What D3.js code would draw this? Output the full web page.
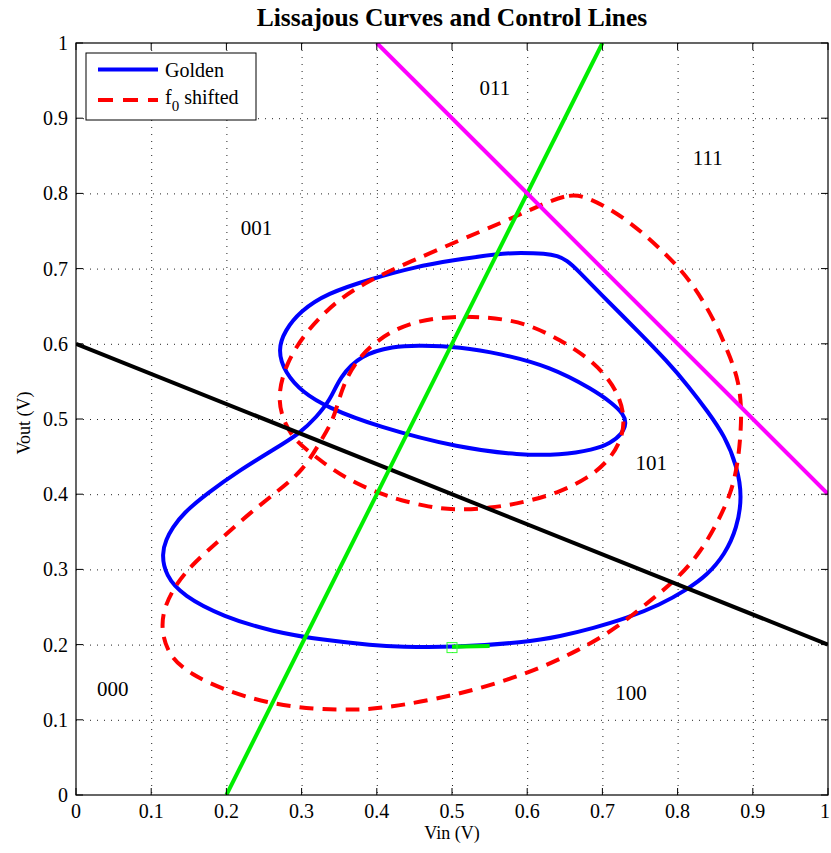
<!DOCTYPE html>
<html>
<head>
<meta charset="utf-8">
<script src="https://cdn.jsdelivr.net/npm/d3@7"></script>
<style>
  body { margin: 0; background: #fff; }
  text { font-family: "Liberation Serif", "Times New Roman", serif; }
</style>
</head>
<body>
<svg id="chart" width="831" height="853"></svg>
<script>
// golden Lissajous curve (Vin, Vout), closed loop
const golden = [
  [0.5,0.196],[0.598,0.203],[0.644,0.211],[0.688,0.222],[0.732,0.235],[0.777,0.253],
  [0.812,0.273],[0.839,0.292],[0.863,0.320],[0.879,0.355],[0.886,0.397],[0.879,0.437],
  [0.863,0.477],[0.840,0.510],[0.815,0.543],[0.785,0.578],[0.750,0.614],[0.697,0.667],
  [0.666,0.699],[0.653,0.711],[0.640,0.717],[0.625,0.720],[0.590,0.721],[0.564,0.720],
  [0.5,0.711],[0.45,0.702],[0.395,0.687],[0.333,0.667],[0.298,0.643],[0.278,0.618],
  [0.268,0.592],[0.278,0.561],[0.302,0.535],[0.333,0.516],[0.4,0.490],[0.511,0.461],
  [0.59,0.452],[0.644,0.452],[0.688,0.459],[0.711,0.468],[0.726,0.480],[0.732,0.494],
  [0.728,0.507],[0.713,0.521],[0.688,0.539],[0.63,0.570],[0.564,0.587],[0.511,0.596],
  [0.457,0.598],[0.422,0.597],[0.378,0.585],[0.351,0.556],[0.338,0.525],[0.320,0.503],
  [0.298,0.481],[0.262,0.459],[0.218,0.432],[0.174,0.401],[0.143,0.375],[0.128,0.355],
  [0.120,0.340],[0.114,0.321],[0.119,0.292],[0.142,0.265],[0.196,0.237],[0.262,0.217],
  [0.329,0.206],[0.395,0.199],[0.431,0.197]
];

// f0 shifted curve, closed loop
const shifted = [
  [0.679,0.797],[0.652,0.799],[0.608,0.780],[0.568,0.762],[0.511,0.738],[0.444,0.709],
  [0.391,0.685],[0.347,0.658],[0.307,0.618],[0.279,0.574],[0.268,0.530],[0.275,0.499],
  [0.290,0.472],[0.316,0.452],[0.342,0.432],[0.373,0.414],[0.404,0.401],[0.431,0.392],
  [0.47,0.383],[0.5,0.379],[0.55,0.381],[0.6,0.390],[0.644,0.403],[0.680,0.421],
  [0.707,0.443],[0.724,0.469],[0.730,0.497],[0.724,0.527],[0.707,0.556],[0.679,0.583],
  [0.644,0.605],[0.608,0.623],[0.573,0.633],[0.511,0.638],[0.444,0.630],[0.400,0.605],
  [0.373,0.578],[0.356,0.547],[0.347,0.516],[0.340,0.495],[0.324,0.468],[0.302,0.432],
  [0.271,0.406],[0.231,0.375],[0.191,0.339],[0.156,0.308],[0.134,0.282],[0.117,0.250],
  [0.113,0.219],[0.124,0.184],[0.152,0.161],[0.196,0.140],[0.254,0.122],[0.316,0.114],
  [0.373,0.113],[0.413,0.116],[0.5,0.131],[0.599,0.160],[0.670,0.193],[0.719,0.222],
  [0.768,0.262],[0.799,0.287],[0.830,0.322],[0.854,0.364],[0.871,0.401],[0.880,0.440],
  [0.884,0.481],[0.885,0.516],[0.881,0.550],[0.871,0.580],[0.849,0.632],[0.817,0.685],
  [0.782,0.722],[0.733,0.766]
];

// control lines: endpoints in data units
const controlLines = [
  { name: "black",   color: "#000000", pts: [[0, 0.6], [1, 0.2]] },
  { name: "green",   color: "#00ee00", pts: [[0.2, 0], [0.7, 1]] },
  { name: "magenta", color: "#ff00ff", pts: [[0.4, 1], [1, 0.4]] }
];

// current point marker and its short trace
const markerPoint = [0.5, 0.196];
const markerTrace = [[0.5, 0.197], [0.55, 0.198]];

const regionLabels = [
  { text: "011", x: 0.557, y: 0.94 },
  { text: "111", x: 0.84,  y: 0.847 },
  { text: "001", x: 0.24,  y: 0.754 },
  { text: "101", x: 0.765, y: 0.441 },
  { text: "000", x: 0.049, y: 0.141 },
  { text: "100", x: 0.738, y: 0.136 }
];

const tickValues = [0, 0.1, 0.2, 0.3, 0.4, 0.5, 0.6, 0.7, 0.8, 0.9, 1];
const tickLabels = ["0", "0.1", "0.2", "0.3", "0.4", "0.5", "0.6", "0.7", "0.8", "0.9", "1"];

const svg = d3.select("#chart");
const pLeft = 76, pRight = 828, pTop = 43, pBottom = 795;

const x = d3.scaleLinear().domain([0, 1]).range([pLeft, pRight]);
const y = d3.scaleLinear().domain([0, 1]).range([pBottom, pTop]);

const defs = svg.append("defs");
defs.append("clipPath").attr("id", "plotClip")
  .append("rect").attr("x", pLeft).attr("y", pTop)
  .attr("width", pRight - pLeft).attr("height", pBottom - pTop);

// grid
const grid = svg.append("g").attr("stroke", "#222").attr("stroke-width", 1)
  .attr("stroke-dasharray", "1,6");
grid.selectAll(".gx").data(tickValues.slice(1, -1)).enter().append("line")
  .attr("x1", d => x(d) + 0.5).attr("x2", d => x(d) + 0.5)
  .attr("y1", pTop).attr("y2", pBottom);
grid.selectAll(".gy").data(tickValues.slice(1, -1)).enter().append("line")
  .attr("y1", d => y(d) + 0.5).attr("y2", d => y(d) + 0.5)
  .attr("x1", pLeft).attr("x2", pRight);

const line = d3.line().x(d => x(d[0])).y(d => y(d[1]));
const smooth = d3.line().x(d => x(d[0])).y(d => y(d[1])).curve(d3.curveBasisClosed);

const plot = svg.append("g").attr("clip-path", "url(#plotClip)");

plot.append("path").datum(golden)
  .attr("d", smooth).attr("fill", "none")
  .attr("stroke", "#0000ff").attr("stroke-width", 4).attr("stroke-linejoin", "round");

plot.append("path").datum(shifted)
  .attr("d", smooth).attr("fill", "none")
  .attr("stroke", "#ff0000").attr("stroke-width", 4).attr("stroke-dasharray", "14,9");

plot.selectAll(".ctrl").data(controlLines).enter().append("path")
  .attr("d", d => line(d.pts)).attr("fill", "none")
  .attr("stroke", d => d.color).attr("stroke-width", 4);

plot.append("path").datum(markerTrace)
  .attr("d", line).attr("stroke", "#00ee00").attr("stroke-width", 4);
plot.append("rect")
  .attr("x", x(markerPoint[0]) - 5).attr("y", y(markerPoint[1]) - 5)
  .attr("width", 10).attr("height", 10)
  .attr("fill", "none").attr("stroke", "#33ff33").attr("stroke-width", 1);

// region codes
svg.selectAll(".region").data(regionLabels).enter().append("text")
  .attr("x", d => x(d.x)).attr("y", d => y(d.y))
  .attr("text-anchor", "middle").attr("dominant-baseline", "central")
  .attr("font-size", 21).text(d => d.text);

// frame and ticks
svg.append("rect").attr("x", pLeft).attr("y", pTop)
  .attr("width", pRight - pLeft).attr("height", pBottom - pTop)
  .attr("fill", "none").attr("stroke", "#000").attr("stroke-width", 1.2);

const tickLen = 7;
const ticks = svg.append("g").attr("stroke", "#000").attr("stroke-width", 1);
tickValues.forEach(v => {
  ticks.append("line").attr("x1", x(v)).attr("x2", x(v)).attr("y1", pBottom).attr("y2", pBottom - tickLen);
  ticks.append("line").attr("x1", x(v)).attr("x2", x(v)).attr("y1", pTop).attr("y2", pTop + tickLen);
  ticks.append("line").attr("y1", y(v)).attr("y2", y(v)).attr("x1", pLeft).attr("x2", pLeft + tickLen);
  ticks.append("line").attr("y1", y(v)).attr("y2", y(v)).attr("x1", pRight).attr("x2", pRight - tickLen);
});

svg.selectAll(".xt").data(tickValues).enter().append("text")
  .attr("x", d => Math.min(x(d), 825)).attr("y", pBottom + 23)
  .attr("text-anchor", "middle").attr("font-size", 20)
  .text((d, i) => tickLabels[i]);

svg.selectAll(".yt").data(tickValues).enter().append("text")
  .attr("x", pLeft - 8).attr("y", d => y(d))
  .attr("text-anchor", "end").attr("dominant-baseline", "central").attr("font-size", 20)
  .text((d, i) => tickLabels[i]);

// titles
svg.append("text").attr("x", (pLeft + pRight) / 2).attr("y", 26)
  .attr("text-anchor", "middle").attr("font-size", 25.5).attr("font-weight", "bold")
  .text("Lissajous Curves and Control Lines");

svg.append("text").attr("x", (pLeft + pRight) / 2).attr("y", 839)
  .attr("text-anchor", "middle").attr("font-size", 18).text("Vin (V)");

svg.append("text")
  .attr("transform", `translate(30, 423) rotate(-90)`)
  .attr("text-anchor", "middle").attr("font-size", 18).text("Vout (V)");

// legend
const lg = svg.append("g");
lg.append("rect").attr("x", 86).attr("y", 53).attr("width", 170).attr("height", 67)
  .attr("fill", "#fff").attr("stroke", "#000").attr("stroke-width", 1);
lg.append("line").attr("x1", 98).attr("x2", 158).attr("y1", 69.5).attr("y2", 69.5)
  .attr("stroke", "#0000ff").attr("stroke-width", 4);
lg.append("line").attr("x1", 98).attr("x2", 158).attr("y1", 100).attr("y2", 100)
  .attr("stroke", "#ff0000").attr("stroke-width", 4).attr("stroke-dasharray", "15,10");
lg.append("text").attr("x", 165).attr("y", 77).attr("font-size", 20).text("Golden");
const ft = lg.append("text").attr("x", 165).attr("y", 104).attr("font-size", 20);
ft.append("tspan").text("f");
ft.append("tspan").attr("font-size", 15).attr("dy", 7).text("0");
ft.append("tspan").attr("dy", -7).text(" shifted");
</script>
</body>
</html>
